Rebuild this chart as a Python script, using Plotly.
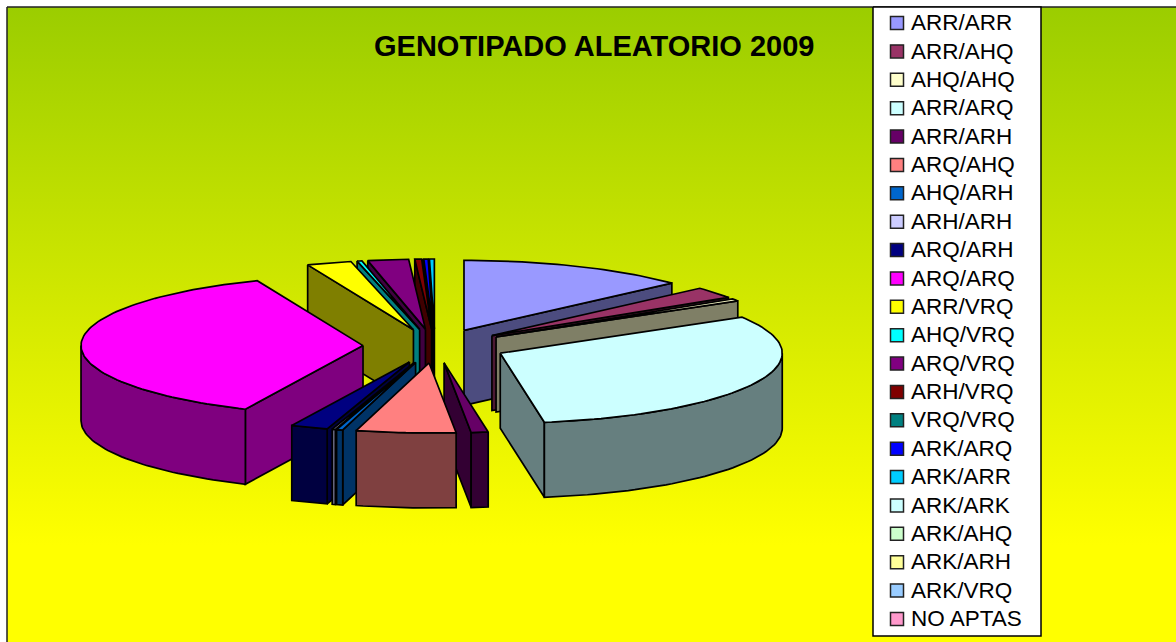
import math
import plotly.graph_objects as go

TITLE = "GENOTIPADO ALEATORIO 2009"
CATEGORIES = ["ARR/ARR", "ARR/AHQ", "AHQ/AHQ", "ARR/ARQ", "ARR/ARH", "ARQ/AHQ", "AHQ/ARH", "ARH/ARH",
              "ARQ/ARH", "ARQ/ARQ", "ARR/VRQ", "AHQ/VRQ", "ARQ/VRQ", "ARH/VRQ", "VRQ/VRQ", "ARK/ARQ",
              "ARK/ARR", "ARK/ARK", "ARK/AHQ", "ARK/ARH", "ARK/VRQ", "NO APTAS"]
VALUES = [13.19, 2.64, 0.56, 31.11, 0.97, 5.69, 0.36, 0.19,
          2.14, 37.03, 2.56, 0.28, 2.33, 0.39, 0.03, 0.25,
          0.28, 0, 0, 0, 0, 0]
COLORS = ["#9999FF", "#993366", "#FFFFCC", "#CCFFFF", "#660066", "#FF8080", "#0066CC", "#CCCCFF",
          "#000080", "#FF00FF", "#FFFF00", "#00FFFF", "#800080", "#800000", "#008080", "#0000FF",
          "#00CCFF", "#CCFFFF", "#CCFFCC", "#FFFF99", "#99CCFF", "#FF99CC"]

CX, CY = 435, 346
RX, RY = 282, 70
EX, EY = 72, 17
DEPTH = 75
LINE = dict(color="black", width=1.7)


def dark(hex_color):
    r, g, b = (int(hex_color[i:i + 2], 16) // 2 for i in (1, 3, 5))
    return f"rgb({r},{g},{b})"


def rim(apex, t, dy=0):
    return apex[0] + RX * math.sin(t), apex[1] - RY * math.cos(t) + dy


def arc(apex, t0, t1, dy=0):
    n = max(2, int(abs(t1 - t0) / math.radians(1.5)) + 1)
    return [rim(apex, t0 + (t1 - t0) * i / n, dy) for i in range(n + 1)]


fig = go.Figure()


def poly(points, color, width=None):
    xs = [p[0] for p in points] + [points[0][0]]
    ys = [p[1] for p in points] + [points[0][1]]
    fig.add_trace(go.Scatter(x=xs, y=ys, mode="lines", fill="toself", fillcolor=color,
                             line=LINE if width is None else dict(color="black", width=width),
                             hoverinfo="skip", showlegend=False))


# background with vertical gradient
fig.add_trace(go.Scatter(
    x=[7, 1190, 1190, 7, 7], y=[7, 7, 660, 660, 7], mode="lines", fill="toself",
    line=dict(color="#222222", width=1.5),
    fillgradient=dict(type="vertical", start=7, stop=642,
                      colorscale=[[0, "rgb(155,205,0)"], [0.847, "rgb(255,255,0)"], [1, "rgb(255,255,0)"]]),
    hoverinfo="skip", showlegend=False))

# exploded 3D pie slices, computed from VALUES, painted back to front
total = sum(VALUES)
slices = []
acc = 0.0
for name, val, col in zip(CATEGORIES, VALUES, COLORS):
    t0 = acc / total * 2 * math.pi
    acc += val
    t1 = acc / total * 2 * math.pi
    if val > 0:
        slices.append((t0, t1, col))


def back_distance(s):
    m = (s[0] + s[1]) / 2
    return min(m, 2 * math.pi - m)


for t0, t1, col in sorted(slices, key=back_distance):
    m = (t0 + t1) / 2
    apex = (CX + EX * math.sin(m), CY - EY * math.cos(m))
    apex_low = (apex[0], apex[1] + DEPTH)
    side = dark(col)
    if t1 < math.pi:
        poly([apex, rim(apex, t1), rim(apex, t1, DEPTH), apex_low], side)
    if t0 > math.pi:
        poly([apex, rim(apex, t0), rim(apex, t0, DEPTH), apex_low], side)
    a, b = max(t0, math.pi / 2), min(t1, 3 * math.pi / 2)
    if a < b:
        poly(arc(apex, a, b) + arc(apex, b, a, DEPTH), side)
    poly([apex] + arc(apex, t0, t1), col)

# legend panel
LEG_LEFT, LEG_RIGHT, LEG_TOP, LEG_BOTTOM = 873, 1041, 7, 636
poly([(LEG_LEFT, LEG_TOP), (LEG_RIGHT, LEG_TOP), (LEG_RIGHT, LEG_BOTTOM), (LEG_LEFT, LEG_BOTTOM)], "white", 1.5)
rows = [23 + 28.38 * i for i in range(len(CATEGORIES))]
fig.add_trace(go.Scatter(
    x=[897] * len(rows), y=rows, mode="markers",
    marker=dict(symbol="square", size=13, color=COLORS, line=dict(color="#222222", width=1.5)),
    hoverinfo="skip", showlegend=False))
fig.add_trace(go.Scatter(
    x=[911] * len(rows), y=[r + 1.5 for r in rows], mode="text", text=CATEGORIES, textposition="middle right",
    textfont=dict(family="Liberation Sans, Arial, sans-serif", size=22.5, color="black"),
    hoverinfo="skip", showlegend=False))

fig.add_annotation(x=594, y=46, text=f"<b>{TITLE}</b>", showarrow=False, xref="x", yref="y",
                   font=dict(family="Liberation Sans, Arial, sans-serif", size=29, color="black"))

fig.update_layout(
    width=1176, height=642, margin=dict(l=0, r=0, t=0, b=0),
    paper_bgcolor="white", plot_bgcolor="white", showlegend=False,
    xaxis=dict(range=[0, 1176], visible=False, fixedrange=True),
    yaxis=dict(range=[642, 0], visible=False, fixedrange=True),
)
fig.write_html("out.html", config=dict(displayModeBar=False),
               post_script="document.body.style.margin='0';document.body.style.overflow='hidden';")
